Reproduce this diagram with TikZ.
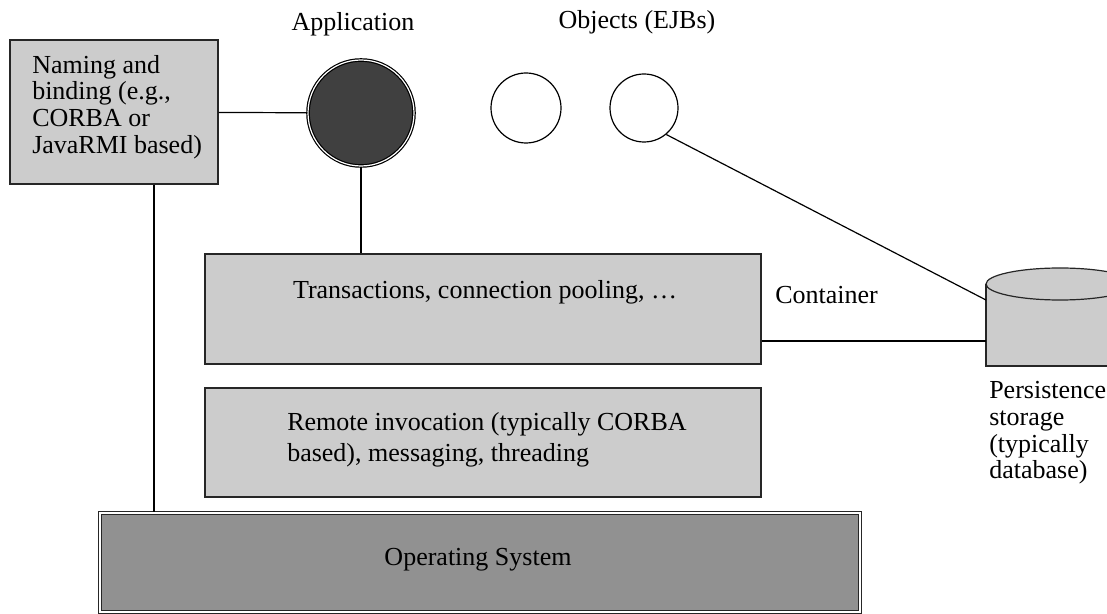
\documentclass[tikz,border=0pt]{standalone}
\usepackage{fontspec}
\setmainfont{Liberation Serif}
\usetikzlibrary{positioning}
\tikzstyle{every picture} = [x=0.5pt, y=-0.5pt, line width=0.6pt]
\tikzstyle{box} = [draw=black!85, fill=black!20, inner sep=0pt]
\tikzstyle{obj} = [circle, draw=black, inner sep=0pt]

\begin{document}
\begin{tikzpicture}[font=\fontsize{13}{13.4}\selectfont]
	\useasboundingbox (0,0) rectangle (1107,614);
	\node (naming) [box, minimum width=104pt, minimum height=72pt] at (114,112) {};
	\node (naming txt) [anchor=west, align=left] at (25,107) {Naming and\\binding (e.g.,\\CORBA or\\JavaRMI based)};
	\node (app) [obj, double=white, double distance=0.6pt, fill=black!75, minimum size=53pt] at (361,113) {};
	\node (obj 1) [obj, minimum size=35pt] at (526,108) {};
	\node (obj 2) [obj, minimum size=34pt] at (644,108) {};
	\node (app lbl) [above=8pt of app, xshift=-4pt] {Application};
	\node (obj lbl) at (637,22) {Objects (EJBs)};
	\node (trans) [box, minimum width=278pt, minimum height=55pt] at (483,309) {};
	\node (trans txt) at (485,292) {Transactions, connection pooling, …};
	\node (cont lbl) [anchor=west] at (768,295) {Container};
	\node (remote) [box, minimum width=278pt, minimum height=54.5pt] at (483,442.5) {};
	\node (remote txt) [anchor=west, align=left, font=\fontsize{13}{15.5}\selectfont] at (280,440) {Remote invocation (typically CORBA\\based), messaging, threading};
	\node (os) [box, fill=black!43, double=white, double distance=0.6pt, minimum width=380pt, minimum height=49.5pt] at (480,562.5) {};
	\node (os txt) at (478,560) {Operating System};
	% storage, cut at the right edge
	\begin{scope}
		\clip (0,0) rectangle (1107,614);
		\filldraw[draw=black!85, fill=black!20] (986,284) -- (986,366) -- (1134,366) -- (1134,284);
		\filldraw[draw=black!85, fill=black!20] (1060,284) ellipse [x radius=74, y radius=16];
	\end{scope}
	\coordinate (store top) at (986,300);
	\coordinate (store mid) at (986,341);
	\node (store txt) [anchor=north west, align=left] at (982,374) {Persistence\\storage\\(typically\\database)};
	\path (naming) edge[-,] (app);
	\draw (app) -- (app |- trans.north);
	\draw ([xshift=20pt]naming.south) -- ([xshift=20pt]naming.south |- os.north);
	\draw (obj 2.-50) -- (store top);
	\draw (store mid -| trans.east) -- (store mid);
\end{tikzpicture}
\end{document}
